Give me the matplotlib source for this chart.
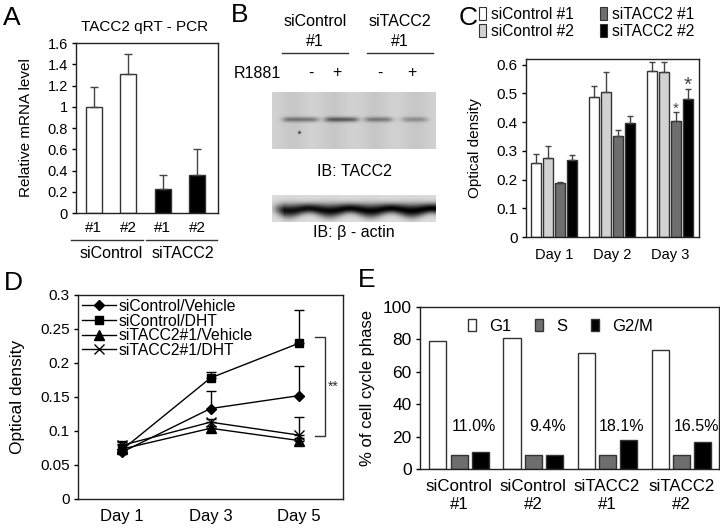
import matplotlib
matplotlib.use("Agg")
import matplotlib.pyplot as plt
from matplotlib.patches import Patch
import numpy as np

plt.rcParams['font.family'] = ['Liberation Sans', 'DejaVu Sans']
plt.rcParams['font.size'] = 11

# ---- panel A: qRT-PCR
a_labels = ['#1', '#2', '#1', '#2']
a_groups = ['siControl', 'siTACC2']
a_values = [1.0, 1.31, 0.23, 0.36]
a_errors = [0.19, 0.19, 0.13, 0.24]

# ---- panel B: blot lanes
b_treat = ['-', '+', '-', '+']
b_tacc2_band = [0.34, 0.44, 0.32, 0.24]   # band darkness per lane
b_actin_band = [0.80, 0.84, 0.84, 0.86]

# ---- panel C: proliferation, 4 siRNAs
c_days = ['Day 1', 'Day 2', 'Day 3']
c_series = ['siControl #1', 'siControl #2', 'siTACC2 #1', 'siTACC2 #2']
c_ctrl1 = [0.257, 0.488, 0.577]
c_ctrl1_err = [0.033, 0.037, 0.033]
c_ctrl2 = [0.274, 0.505, 0.573]
c_ctrl2_err = [0.043, 0.068, 0.035]
c_tacc1 = [0.189, 0.353, 0.405]
c_tacc1_err = [0.002, 0.018, 0.030]
c_tacc2 = [0.268, 0.396, 0.481]
c_tacc2_err = [0.016, 0.027, 0.033]

# ---- panel D: DHT response
d_days = ['Day 1', 'Day 3', 'Day 5']
d_names = ['siControl/Vehicle', 'siControl/DHT', 'siTACC2#1/Vehicle', 'siTACC2#1/DHT']
d_ctrl_veh = [0.069, 0.133, 0.152]
d_ctrl_veh_err = [0.005, 0.026, 0.043]
d_ctrl_dht = [0.0725, 0.178, 0.229]
d_ctrl_dht_err = [0.012, 0.009, 0.049]
d_tacc_veh = [0.0735, 0.104, 0.086]
d_tacc_veh_err = [0.008, 0.003, 0.003]
d_tacc_dht = [0.079, 0.113, 0.094]
d_tacc_dht_err = [0.006, 0.004, 0.026]

# ---- panel E: cell cycle
e_groups = ['siControl\n#1', 'siControl\n#2', 'siTACC2\n#1', 'siTACC2\n#2']
e_g1 = [79.1, 80.9, 71.7, 73.2]
e_s = [8.8, 8.8, 8.8, 8.8]
e_g2m = [10.3, 8.8, 18.0, 16.4]
e_g2m_text = ['11.0%', '9.4%', '18.1%', '16.5%']

W, H = 720, 529
fig = plt.figure(figsize=(W / 100, H / 100), dpi=100)


def px_axes(l, t, r, b):
    return fig.add_axes([l / W, 1 - b / H, (r - l) / W, (b - t) / H])


def ftext(x, y, s, **kw):
    fig.text(x / W, 1 - y / H, s, **kw)


def fline(x0, x1, y):
    fig.add_artist(plt.Line2D([x0 / W, x1 / W], [1 - y / H, 1 - y / H],
                              color='#333333', lw=1))


def style(ax, ysize, xsize, xpad):
    for sp in ax.spines.values():
        sp.set_color('#222222')
        sp.set_linewidth(1)
    ax.tick_params(axis='y', direction='out', length=3, width=1, pad=3,
                   labelsize=ysize)
    ax.tick_params(axis='x', length=0, pad=xpad, labelsize=xsize)


# ---------------- A
axA = px_axes(76, 43, 218, 213)
xa = np.arange(len(a_values))
axA.bar(xa, a_values, width=0.46, color=['white', 'white', 'black', 'black'],
        edgecolor='#333333', lw=1)
axA.errorbar(xa, a_values, yerr=[np.zeros(4), a_errors], fmt='none',
             ecolor='#444444', elinewidth=1, capsize=3, capthick=1)
axA.set_xlim(-0.52, 3.6)
axA.set_ylim(0, 1.6)
axA.set_yticks(np.arange(0, 1.61, 0.2))
axA.set_yticklabels(['0', '0.2', '0.4', '0.6', '0.8', '1', '1.2', '1.4', '1.6'])
axA.set_xticks(xa)
axA.set_xticklabels(a_labels)
style(axA, 10.5, 11, 6)
axA.set_ylabel('Relative mRNA level', fontsize=11)
axA.yaxis.set_label_coords(-0.30, 0.5)
ftext(145, 27, 'TACC2 qRT - PCR', ha='center', va='center', fontsize=11)
fline(71, 143, 240)
fline(146, 217, 240)
ftext(111, 254, a_groups[0], ha='center', va='center', fontsize=11.5)
ftext(183, 254, a_groups[1], ha='center', va='center', fontsize=11.5)

# ---------------- B (blot images)
lane_cx = [28, 69, 106, 142]
lane_hw = [17, 16, 13, 12]
yy, xx = np.mgrid[0:57, 0:164]
blot1 = 0.80 + 0.02 * np.cos(xx / 164 * 2 * np.pi * 4)
for cx, hw, dk in zip(lane_cx, lane_hw, b_tacc2_band):
    box = 1 / (1 + np.exp((np.abs(xx - cx) - hw) / 2.0))
    blot1 -= dk * box * np.exp(-0.5 * ((yy - 27) / 1.8) ** 2)
blot1 -= 0.6 * np.exp(-((xx - 27) ** 2 + (yy - 40) ** 2) / 2.0)
axB1 = px_axes(272, 92, 436, 149)
axB1.imshow(blot1, cmap='gray', vmin=0, vmax=1, aspect='auto',
            interpolation='bilinear')
axB1.axis('off')

yy2, xx2 = np.mgrid[0:27, 0:164]
lane_w = 164 / 4
phase = 2 * np.pi * (xx2 - 6) / lane_w
yc = 14.0 + 1.2 * np.sin(phase)
sig = 4.2 + 0.6 * np.sin(phase)
dark = np.interp(xx2, lane_cx, b_actin_band)
dark = dark * np.clip((xx2 + 2) / 14, 0, 1)
blot2 = 0.86 - dark * np.exp(-0.5 * ((yy2 - yc) / sig) ** 2)
axB2 = px_axes(272, 195, 436, 222)
axB2.imshow(blot2, cmap='gray', vmin=0, vmax=1, aspect='auto',
            interpolation='bilinear')
axB2.axis('off')

ftext(315, 22, 'siControl', ha='center', va='center', fontsize=11.5)
ftext(315, 41, '#1', ha='center', va='center', fontsize=11.5)
ftext(400, 22, 'siTACC2', ha='center', va='center', fontsize=11.5)
ftext(400, 41, '#1', ha='center', va='center', fontsize=11.5)
fline(282, 348, 53)
fline(367, 433, 53)
ftext(234, 73, 'R1881', ha='left', va='center', fontsize=11.5)
for xp, s in zip([311, 337, 380, 412], b_treat):
    ftext(xp, 73, s, ha='center', va='center', fontsize=11.5)
ftext(354, 172, 'IB: TACC2', ha='center', va='center', fontsize=11.5)
ftext(354, 232, 'IB: \u03b2 - actin', ha='center', va='center', fontsize=11.5)

# ---------------- C
axC = px_axes(526, 59, 699, 237)
xc = np.arange(len(c_days))
c_vals = [c_ctrl1, c_ctrl2, c_tacc1, c_tacc2]
c_errs = [c_ctrl1_err, c_ctrl2_err, c_tacc1_err, c_tacc2_err]
c_cols = ['white', '#d2d2d2', '#6e6e6e', 'black']
offs = [-0.31, -0.103, 0.103, 0.31]
for v, e, col, o, name in zip(c_vals, c_errs, c_cols, offs, c_series):
    axC.bar(xc + o, v, width=0.17, color=col, edgecolor='#333333', lw=1,
            label=name)
    axC.errorbar(xc + o, v, yerr=[np.zeros(3), e], fmt='none',
                 ecolor='#444444', elinewidth=1, capsize=2.5, capthick=1)
axC.set_xlim(-0.48, 2.5)
axC.set_ylim(0, 0.62)
axC.set_yticks(np.arange(0, 0.61, 0.1))
axC.set_yticklabels(['0', '0.1', '0.2', '0.3', '0.4', '0.5', '0.6'])
axC.set_xticks(xc)
axC.set_xticklabels(c_days)
style(axC, 11, 10.5, 8)
axC.set_ylabel('Optical density', fontsize=11)
axC.yaxis.set_label_coords(-0.255, 0.5)
axC.text(2 + offs[2], c_tacc1[2] + c_tacc1_err[2] + 0.012, '*', ha='center',
         va='center', fontsize=11, color='#444444')
axC.text(2 + offs[3], c_tacc2[2] + c_tacc2_err[2] + 0.016, '*', ha='center',
         va='center', fontsize=15, color='#444444')
fig.legend(handles=[Patch(facecolor=c, edgecolor='#333333', lw=0.8)
                    for c in c_cols],
           labels=c_series, ncol=2, loc='upper left',
           bbox_to_anchor=(476 / W, 1 - 4 / H), frameon=False,
           handlelength=0.45, handleheight=0.9, handletextpad=0.3,
           columnspacing=1.7, labelspacing=0.1, fontsize=11.2,
           borderpad=0.2, borderaxespad=0)

# ---------------- D
axD = px_axes(78, 295, 343, 499)
xd = np.arange(len(d_days))
d_vals = [d_ctrl_veh, d_ctrl_dht, d_tacc_veh, d_tacc_dht]
d_errs = [d_ctrl_veh_err, d_ctrl_dht_err, d_tacc_veh_err, d_tacc_dht_err]
d_marks = [('D', 5), ('s', 6), ('^', 6.5), ('x', 7)]
for v, e, (m, ms), name in zip(d_vals, d_errs, d_marks, d_names):
    axD.errorbar(xd, v, yerr=[np.zeros(3), e], fmt='none', ecolor='black',
                 elinewidth=1, capsize=3.5, capthick=1)
    axD.plot(xd, v, color='black', lw=1, marker=m, ms=ms, mfc='black',
             mec='black', label=name)
axD.set_xlim(-0.5, 2.5)
axD.set_ylim(0, 0.3)
axD.set_yticks(np.arange(0, 0.31, 0.05))
axD.set_yticklabels(['0', '0.05', '0.1', '0.15', '0.2', '0.25', '0.3'])
axD.set_xticks(xd)
axD.set_xticklabels(d_days)
style(axD, 11, 12, 7)
axD.set_ylabel('Optical density', fontsize=12.5)
axD.yaxis.set_label_coords(-0.20, 0.5)
axD.legend(loc='upper left', frameon=False, fontsize=11.3, handlelength=2.2,
           handletextpad=0.15, labelspacing=-0.02, borderaxespad=0.1,
           borderpad=0.15)
axD.plot([2.18, 2.296, 2.296, 2.18], [0.238, 0.238, 0.092, 0.092],
         color='#333333', lw=1, clip_on=False)
axD.text(2.39, 0.165, '**', ha='center', va='center', fontsize=10,
         color='#333333')

# ---------------- E
axE = px_axes(420, 307, 719, 469)
xe = np.arange(len(e_groups))
e_vals = [e_g1, e_s, e_g2m]
e_cols = ['white', '#6e6e6e', 'black']
e_names = ['G1', 'S', 'G2/M']
for v, col, o, name in zip(e_vals, e_cols, [-0.285, 0, 0.285], e_names):
    axE.bar(xe + o, v, width=0.23, color=col, edgecolor='#333333', lw=1,
            label=name)
for x, s in zip(xe, e_g2m_text):
    axE.text(x + 0.2, 26, s, ha='center', va='center', fontsize=11.5)
axE.set_xlim(-0.527, 3.51)
axE.set_ylim(0, 100)
axE.set_yticks(np.arange(0, 101, 20))
axE.set_xticks(xe)
axE.set_xticklabels(e_groups, linespacing=1.25)
style(axE, 12.5, 12.2, 7)
axE.set_ylabel('% of cell cycle phase', fontsize=12)
axE.yaxis.set_label_coords(-0.15, 0.5)
axE.legend(loc='upper center', bbox_to_anchor=(0.47, 1.0), ncol=3,
           frameon=False, fontsize=12, handlelength=0.5, handleheight=0.8,
           handletextpad=0.8, columnspacing=1.4, borderaxespad=0.3)

# ---------------- panel letters
for xp, yp, s in [(3, 25, 'A'), (231, 22, 'B'), (459, 25, 'C'),
                  (4, 290, 'D'), (358, 287, 'E')]:
    ftext(xp, yp, s, ha='left', va='baseline', fontsize=19)

fig.savefig('out.png', dpi=100)
